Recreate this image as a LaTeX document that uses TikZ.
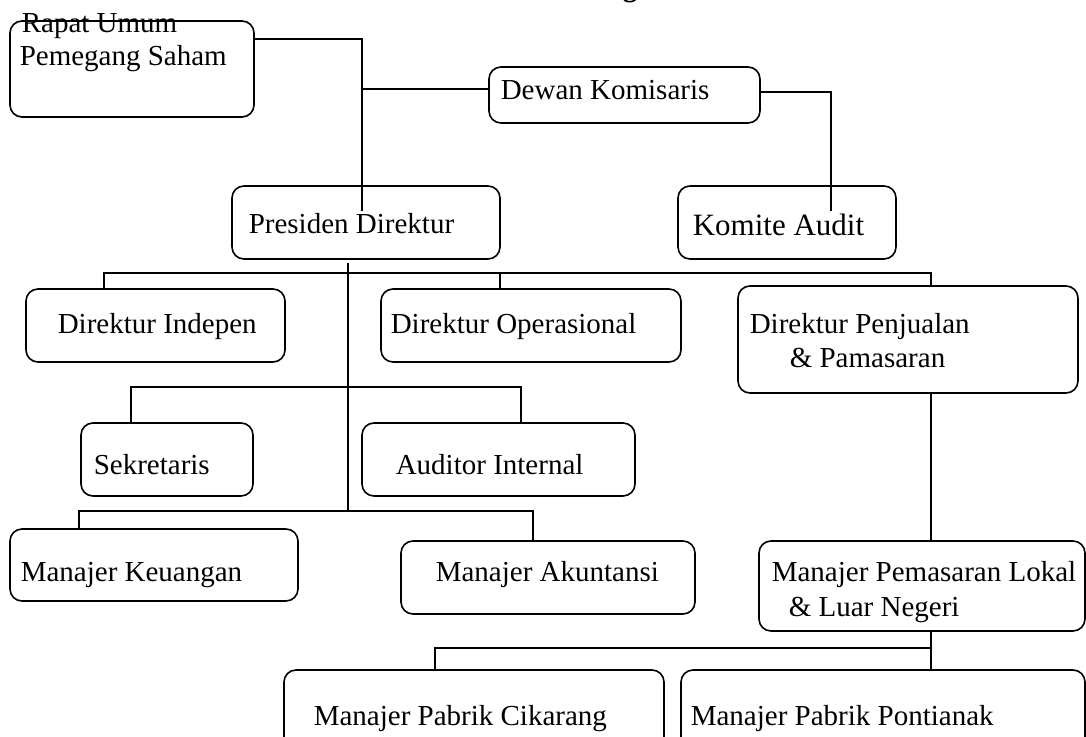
\documentclass[tikz,border=0pt]{standalone}
\usepackage{fontspec}
\setmainfont{Liberation Serif}
\usetikzlibrary{fit}

\begin{document}
\begin{tikzpicture}[x=1pt,y=-1pt,line width=1.6pt,
	orgbox/.style={draw,rounded corners=12pt,inner sep=0pt},
	txt/.style={inner sep=0pt,anchor=base west,font=\fontsize{29}{34}\selectfont}]
			\clip (0,0) rectangle (1086,736);
			\node[orgbox,fit={(10,21) (254,117)}] (rups) {};
			\node[orgbox,fit={(489,67) (760,123)}] (dewan) {};
			\node[orgbox,fit={(232,186) (500,259)}] (presdir) {};
			\node[orgbox,fit={(678,186) (896,259)}] (komite) {};
			\node[orgbox,fit={(26,289) (285,362)}] (indep) {};
			\node[orgbox,fit={(381,289) (681,362)}] (ops) {};
			\node[orgbox,fit={(738,286) (1078,393)}] (jual) {};
			\node[orgbox,fit={(81,423) (253,496)}] (sekr) {};
			\node[orgbox,fit={(362,423) (635,496)}] (audint) {};
			\node[orgbox,fit={(10,529) (298,601)}] (keu) {};
			\node[orgbox,fit={(401,541) (695,614)}] (akun) {};
			\node[orgbox,fit={(759,541) (1085,631)}] (pasar) {};
			\node[orgbox,fit={(284,670) (664,770)}] (cik) {};
			\node[orgbox,fit={(681,670) (1085,770)}] (pont) {};
			\node[txt,font=\fontsize{29}{34}\selectfont\bfseries] (judul) at (622,-3) {g};
			\node[txt] (rups-a) at (21,32) {Rapat Umum};
			\node[txt] (rups-b) at (19,65) {Pemegang Saham};
			\node[txt] (dewan-t) at (500,99) {Dewan Komisaris};
			\node[txt] (presdir-t) at (248,233) {Presiden Direktur};
			\node[txt,font=\fontsize{31}{36}\selectfont] (komite-t) at (692,235) {Komite Audit};
			\node[txt] (indep-t) at (57,333) {Direktur Indepen};
			\node[txt] (ops-t) at (390,333) {Direktur Operasional};
			\node[txt] (jual-a) at (749,333) {Direktur Penjualan};
			\node[txt] (jual-b) at (789,367) {\& Pamasaran};
			\node[txt] (sekr-t) at (93,474) {Sekretaris};
			\node[txt] (audint-t) at (395,474) {Auditor Internal};
			\node[txt] (keu-t) at (20,581) {Manajer Keuangan};
			\node[txt] (akun-t) at (435,581) {Manajer Akuntansi};
			\node[txt] (pasar-a) at (771,581) {Manajer Pemasaran Lokal};
			\node[txt] (pasar-b) at (788,616) {\& Luar Negeri};
			\node[txt] (cik-t) at (313,725) {Manajer Pabrik Cikarang};
			\node[txt] (pont-t) at (690,725) {Manajer Pabrik Pontianak};
			\coordinate (k1) at (362,39);
			\coordinate (k2) at (362,89);
			\coordinate (k3) at (831,92);
			\coordinate (v1) at (348,263);
			\coordinate (v2) at (348,511);
			\coordinate (bus1l) at (104,273);
			\coordinate (bus1m) at (500,273);
			\coordinate (bus1r) at (931,273);
			\coordinate (bus2l) at (131,387);
			\coordinate (bus2r) at (521,387);
			\coordinate (bus3l) at (79,511);
			\coordinate (bus3r) at (533,511);
			\coordinate (bus4l) at (435,648);
			\coordinate (bus4r) at (931,648);
			\draw (rups.east |- k1) -- (k1) -- (presdir.north -| k1) -- ++(0,26);
			\draw (k2) -- (k2 -| dewan.west);
			\draw (k3 -| dewan.east) -- (k3) -- (komite.north -| k3) -- ++(0,26);
			\draw (v1) -- (v2);
			\draw (bus1l |- indep.north) -- (bus1l) -- (bus1r) -- (bus1r |- jual.north);
			\draw (bus1m) -- (bus1m |- ops.north);
			\draw (bus2l |- sekr.north) -- (bus2l) -- (bus2r) -- (bus2r |- audint.north);
			\draw (bus3l |- keu.north) -- (bus3l) -- (bus3r) -- (bus3r |- akun.north);
			\draw (jual.south -| bus1r) -- (pasar.north -| bus1r);
			\draw (pasar.south -| bus4r) -- (pont.north -| bus4r);
			\draw (bus4l |- cik.north) -- (bus4l) -- (bus4r);
		\end{tikzpicture}
\end{document}
